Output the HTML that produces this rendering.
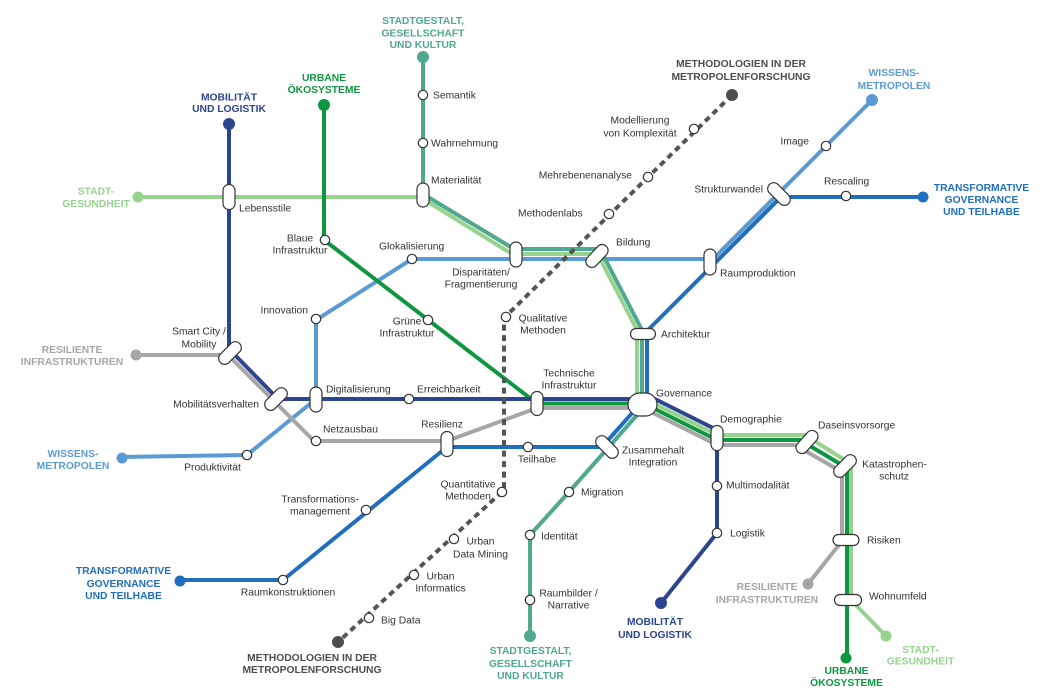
<!DOCTYPE html>
<html><head><meta charset="utf-8"><style>
html,body{margin:0;padding:0;background:#fff;}
svg{display:block;}
text{font-family:"Liberation Sans",Arial,sans-serif;}
.s{font-size:10.3px;fill:#333;}
.t{font-size:10.3px;font-weight:bold;}
</style></head><body>
<svg width="1055" height="697" viewBox="0 0 1055 697" xmlns="http://www.w3.org/2000/svg">
<rect width="1055" height="697" fill="#fff"/>
<g fill="none" stroke-width="4" stroke-linejoin="round" stroke-linecap="butt">
<path stroke="#5b9bd5" d="M122,457 L247,455 L316,399 V320 L412,259 H713 L872,100"/>
<path stroke="#a6a6a6" d="M136,355 H228 L314,441 H447 L537,408 H643 L717,445 H795 L842,472 V541 L808,584"/>
<path stroke="#96d48e" d="M138,197 H420 L512,254 H597.6 L637,330 V404 L657,405 L717,435 H805 L851,464 V600 L886,636"/>
<path stroke="#4fa88f" d="M423,57 V194 L514,249 H600 L642,330 V404 L645,406 L569,492 L530,535 V636"/>
<path stroke="#0f9640" d="M324,105 V240 L537,403.5 H644 L717,440 H800 L847,468 V658"/>
<path stroke="#1f6fbe" d="M923,197 H781 L647,331 V404 L641,403 L602,447 H447 L283,580 H180"/>
<path stroke="#2d4591" d="M229,124 V349 L278,399 H655 L717,430 V533 L661,603"/>
<path stroke="#555" stroke-dasharray="6 4.5" d="M732,95 L504,318 V490 L338,642"/>
</g>
<!-- end dots -->
<g>
<circle cx="229" cy="124" r="6" fill="#2d4591"/>
<circle cx="661" cy="603" r="6" fill="#2d4591"/>
<circle cx="324" cy="105" r="6" fill="#0f9640"/>
<circle cx="846" cy="658" r="5.5" fill="#0f9640"/>
<circle cx="423" cy="57" r="6" fill="#4fa88f"/>
<circle cx="530" cy="636" r="6" fill="#4fa88f"/>
<circle cx="138" cy="197" r="5.5" fill="#96d48e"/>
<circle cx="886" cy="636" r="5.5" fill="#96d48e"/>
<circle cx="136" cy="355" r="5.5" fill="#a6a6a6"/>
<circle cx="808" cy="584" r="5.5" fill="#a6a6a6"/>
<circle cx="122" cy="458" r="5.5" fill="#5b9bd5"/>
<circle cx="872" cy="100" r="6" fill="#5b9bd5"/>
<circle cx="180" cy="581" r="5.5" fill="#1f6fbe"/>
<circle cx="923" cy="197" r="5.5" fill="#1f6fbe"/>
<circle cx="732" cy="95" r="6" fill="#4d4d4d"/>
<circle cx="338" cy="642" r="6" fill="#4d4d4d"/>
</g>
<!-- station nodes -->
<g fill="#fff" stroke="#333" stroke-width="1.2">
<circle cx="423" cy="95" r="4.7"/>
<circle cx="423" cy="143" r="4.7"/>
<circle cx="325" cy="240" r="4.7"/>
<circle cx="428" cy="320" r="4.7"/>
<circle cx="412" cy="259" r="4.7"/>
<circle cx="316" cy="319" r="4.7"/>
<circle cx="409" cy="399" r="4.7"/>
<circle cx="316" cy="441" r="4.7"/>
<circle cx="247" cy="455" r="4.7"/>
<circle cx="528" cy="447" r="4.7"/>
<circle cx="366" cy="510" r="4.7"/>
<circle cx="283" cy="580" r="4.7"/>
<circle cx="569" cy="492" r="4.7"/>
<circle cx="530" cy="535" r="4.7"/>
<circle cx="530" cy="600" r="4.7"/>
<circle cx="717" cy="486" r="4.7"/>
<circle cx="717" cy="533" r="4.7"/>
<circle cx="826" cy="146" r="4.7"/>
<circle cx="846" cy="196" r="4.7"/>
<circle cx="694" cy="129" r="4.7"/>
<circle cx="648" cy="177" r="4.7"/>
<circle cx="609" cy="214" r="4.7"/>
<circle cx="506" cy="317" r="4.7"/>
<circle cx="502" cy="492" r="4.7"/>
<circle cx="454" cy="539" r="4.7"/>
<circle cx="414" cy="575" r="4.7"/>
<circle cx="369" cy="618" r="4.7"/>
<!-- vertical pills -->
<rect x="223" y="184.5" width="12" height="25" rx="6"/>
<rect x="417" y="183" width="12" height="24" rx="6"/>
<rect x="510" y="242" width="12" height="25" rx="6"/>
<rect x="704" y="249" width="12" height="26" rx="6"/>
<rect x="310" y="387" width="12" height="25" rx="6"/>
<rect x="531" y="391.5" width="12" height="24" rx="6"/>
<rect x="441" y="431.5" width="12" height="25" rx="6"/>
<rect x="711" y="425.5" width="12" height="25" rx="6"/>
<!-- horizontal pills -->
<rect x="630.5" y="328.5" width="25" height="11" rx="5.5"/>
<rect x="833" y="534.5" width="26" height="11" rx="5.5"/>
<rect x="834.5" y="594.5" width="27" height="11" rx="5.5"/>
<!-- diagonal pills -->
<rect x="-13.5" y="-6" width="27" height="12" rx="6" transform="translate(230,353) rotate(-45)"/>
<rect x="-13.5" y="-6" width="27" height="12" rx="6" transform="translate(276,399) rotate(-45)"/>
<rect x="-13.5" y="-6" width="27" height="12" rx="6" transform="translate(597,256) rotate(-47)"/>
<rect x="-13.5" y="-6" width="27" height="12" rx="6" transform="translate(779,194) rotate(45)"/>
<rect x="-13.5" y="-6" width="27" height="12" rx="6" transform="translate(607,447) rotate(45)"/>
<rect x="-13.5" y="-6" width="27" height="12" rx="6" transform="translate(807,442) rotate(-48)"/>
<rect x="-13.5" y="-6" width="27" height="12" rx="6" transform="translate(845,466) rotate(-45)"/>
<!-- Governance hub -->
<rect x="628" y="393" width="29" height="23" rx="11.5"/>
</g>
<!-- station labels -->
<g class="s">
<text class="s" x="239" y="211.5">Lebensstile</text>
<text class="s" x="300" y="241.5" text-anchor="middle">Blaue</text>
<text class="s" x="300" y="253.5" text-anchor="middle">Infrastruktur</text>
<text class="s" x="433" y="98.5">Semantik</text>
<text class="s" x="431" y="146.5">Wahrnehmung</text>
<text class="s" x="431" y="183.5">Materialität</text>
<text class="s" x="640" y="123.5" text-anchor="middle">Modellierung</text>
<text class="s" x="640" y="136.5" text-anchor="middle">von Komplexität</text>
<text class="s" x="632" y="178.5" text-anchor="end">Mehrebenenanalyse</text>
<text class="s" x="518" y="216.5">Methodenlabs</text>
<text class="s" x="809" y="144.5" text-anchor="end">Image</text>
<text class="s" x="824" y="184.5">Rescaling</text>
<text class="s" x="763" y="192.5" text-anchor="end">Strukturwandel</text>
<text class="s" x="616" y="245.5">Bildung</text>
<text class="s" x="379" y="249.5">Glokalisierung</text>
<text class="s" x="481" y="275.5" text-anchor="middle">Disparitäten/</text>
<text class="s" x="481" y="287.5" text-anchor="middle">Fragmentierung</text>
<text class="s" x="720" y="276.5">Raumproduktion</text>
<text class="s" x="308" y="313.5" text-anchor="end">Innovation</text>
<text class="s" x="407" y="324.5" text-anchor="middle">Grüne</text>
<text class="s" x="407" y="336.5" text-anchor="middle">Infrastruktur</text>
<text class="s" x="543" y="321.5" text-anchor="middle">Qualitative</text>
<text class="s" x="543" y="333.5" text-anchor="middle">Methoden</text>
<text class="s" x="661" y="337.5">Architektur</text>
<text class="s" x="199" y="334.5" text-anchor="middle">Smart City /</text>
<text class="s" x="199" y="347.5" text-anchor="middle">Mobility</text>
<text class="s" x="259" y="407.5" text-anchor="end">Mobilitätsverhalten</text>
<text class="s" x="326" y="392.5">Digitalisierung</text>
<text class="s" x="417" y="392.5">Erreichbarkeit</text>
<text class="s" x="569" y="376.5" text-anchor="middle">Technische</text>
<text class="s" x="569" y="388.5" text-anchor="middle">Infrastruktur</text>
<text class="s" x="656" y="396.5">Governance</text>
<text class="s" x="323" y="432.5">Netzausbau</text>
<text class="s" x="442" y="427.5" text-anchor="middle">Resilienz</text>
<text class="s" x="537" y="462.5" text-anchor="middle">Teilhabe</text>
<text class="s" x="212.5" y="470.5" text-anchor="middle">Produktivität</text>
<text class="s" x="653" y="453.5" text-anchor="middle">Zusammehalt</text>
<text class="s" x="653" y="465.5" text-anchor="middle">Integration</text>
<text class="s" x="720" y="422.5">Demographie</text>
<text class="s" x="818" y="428.5">Daseinsvorsorge</text>
<text class="s" x="894.5" y="467.5" text-anchor="middle">Katastrophen-</text>
<text class="s" x="894" y="479.5" text-anchor="middle">schutz</text>
<text class="s" x="726" y="488.5">Multimodalität</text>
<text class="s" x="730" y="536.5">Logistik</text>
<text class="s" x="867" y="543.5">Risiken</text>
<text class="s" x="869" y="599.5">Wohnumfeld</text>
<text class="s" x="320" y="502.5" text-anchor="middle">Transformations-</text>
<text class="s" x="320" y="514.5" text-anchor="middle">management</text>
<text class="s" x="288" y="595.5" text-anchor="middle">Raumkonstruktionen</text>
<text class="s" x="468" y="487.5" text-anchor="middle">Quantitative</text>
<text class="s" x="468" y="499.5" text-anchor="middle">Methoden</text>
<text class="s" x="581" y="495.5">Migration</text>
<text class="s" x="541" y="539.5">Identität</text>
<text class="s" x="480.5" y="544.5" text-anchor="middle">Urban</text>
<text class="s" x="480.5" y="557.5" text-anchor="middle">Data Mining</text>
<text class="s" x="440.5" y="579.5" text-anchor="middle">Urban</text>
<text class="s" x="440.5" y="591.5" text-anchor="middle">Informatics</text>
<text class="s" x="381" y="623.5">Big Data</text>
<text class="s" x="568.5" y="596.5" text-anchor="middle">Raumbilder /</text>
<text class="s" x="568.5" y="608.5" text-anchor="middle">Narrative</text>
</g>
<!-- terminal labels -->
<g class="t" text-anchor="middle">
<text class="t" x="423" y="24" fill="#4fa88f">STADTGESTALT,</text>
<text class="t" x="423" y="36.5" fill="#4fa88f">GESELLSCHAFT</text>
<text class="t" x="423" y="48" fill="#4fa88f">UND KULTUR</text>
<text class="t" x="324" y="81" fill="#0f9640">URBANE</text>
<text class="t" x="324" y="93" fill="#0f9640">ÖKOSYSTEME</text>
<text class="t" x="229" y="100.5" fill="#2d4591">MOBILITÄT</text>
<text class="t" x="229" y="112" fill="#2d4591">UND LOGISTIK</text>
<text class="t" x="96" y="194.5" fill="#96d48e">STADT-</text>
<text class="t" x="96" y="207" fill="#96d48e">GESUNDHEIT</text>
<text class="t" x="741" y="67" fill="#4d4d4d">METHODOLOGIEN IN DER</text>
<text class="t" x="741" y="80" fill="#4d4d4d">METROPOLENFORSCHUNG</text>
<text class="t" x="894" y="76" fill="#5b9bd5">WISSENS-</text>
<text class="t" x="894" y="89" fill="#5b9bd5">METROPOLEN</text>
<text class="t" x="981.5" y="191" fill="#1f6fbe">TRANSFORMATIVE</text>
<text class="t" x="981.5" y="203" fill="#1f6fbe">GOVERNANCE</text>
<text class="t" x="981.5" y="215" fill="#1f6fbe">UND TEILHABE</text>
<text class="t" x="72" y="353" fill="#a6a6a6">RESILIENTE</text>
<text class="t" x="72" y="365" fill="#a6a6a6">INFRASTRUKTUREN</text>
<text class="t" x="73" y="457" fill="#5b9bd5">WISSENS-</text>
<text class="t" x="73" y="469" fill="#5b9bd5">METROPOLEN</text>
<text class="t" x="123.5" y="574" fill="#1f6fbe">TRANSFORMATIVE</text>
<text class="t" x="123.5" y="587" fill="#1f6fbe">GOVERNANCE</text>
<text class="t" x="123.5" y="599" fill="#1f6fbe">UND TEILHABE</text>
<text class="t" x="312" y="661" fill="#4d4d4d">METHODOLOGIEN IN DER</text>
<text class="t" x="312" y="673" fill="#4d4d4d">METROPOLENFORSCHUNG</text>
<text class="t" x="530.5" y="654" fill="#4fa88f">STADTGESTALT,</text>
<text class="t" x="530.5" y="667" fill="#4fa88f">GESELLSCHAFT</text>
<text class="t" x="530.5" y="679" fill="#4fa88f">UND KULTUR</text>
<text class="t" x="655" y="625" fill="#2d4591">MOBILITÄT</text>
<text class="t" x="655" y="638" fill="#2d4591">UND LOGISTIK</text>
<text class="t" x="767" y="590" fill="#a6a6a6">RESILIENTE</text>
<text class="t" x="767" y="603" fill="#a6a6a6">INFRASTRUKTUREN</text>
<text class="t" x="920.5" y="653" fill="#96d48e">STADT-</text>
<text class="t" x="920.5" y="664.5" fill="#96d48e">GESUNDHEIT</text>
<text class="t" x="846.5" y="674" fill="#0f9640">URBANE</text>
<text class="t" x="846.5" y="686" fill="#0f9640">ÖKOSYSTEME</text>
</g>
</svg>
</body></html>
